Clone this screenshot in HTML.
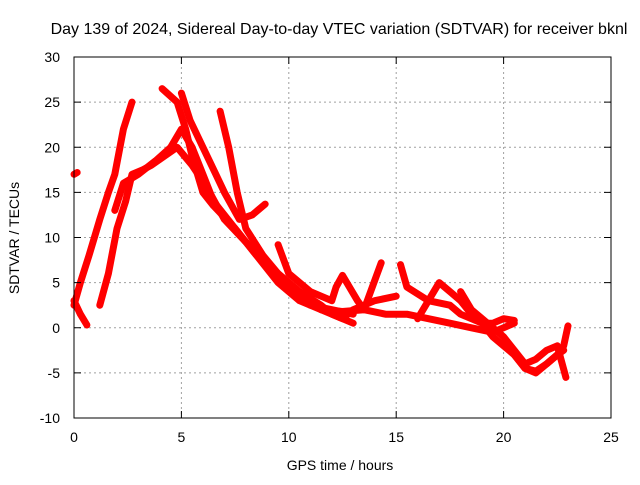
<!DOCTYPE html>
<html><head><meta charset="utf-8"><style>
body{margin:0;background:#fff}
svg text{font-family:"Liberation Sans",sans-serif;font-size:14px;fill:#000}
</style></head><body>
<svg id="chart" width="640" height="480" viewBox="0 0 640 480" xmlns="http://www.w3.org/2000/svg">
<rect width="640" height="480" fill="#fff"/>
<text x="339" y="34" text-anchor="middle" style="font-size:16px">Day 139 of 2024, Sidereal Day-to-day VTEC variation (SDTVAR) for receiver bknl</text>
<g id="grid"></g><g id="series"></g><g id="axes"></g>
<text x="340" y="470" text-anchor="middle">GPS time / hours</text>
<text transform="translate(19,238) rotate(-90)" text-anchor="middle">SDTVAR / TECUs</text>
</svg>
<script>
const xTicks=[0,5,10,15,20,25];
const yTicks=[-10,-5,0,5,10,15,20,25,30];
const t1h=[0,0.3,0.7,1.2,1.6,1.9,2.3,2.7];const t1v=[2.5,5,8,12,15,17,22,25];
const t2h=[0,0.3,0.6];const t2v=[3,1.5,0.3];
const t3h=[1.2,1.6,2.0,2.4,2.7,3.2,3.6,4.2,4.8,5.5,6.2,7,8,9,10,11,12,13];const t3v=[2.5,6,11,14,17,17.5,18,19,20,18,15.5,12,9.5,7,4.5,2.5,2,1.5];
const t4h=[1.9,2.3,3,3.8,4.5,5,5.5,6,6.5,7.5,8.5,9.5,10.5,11.5,12.5,13.5,14.5,15.5,16.5,17.5,18.5,19.5,20.5];const t4v=[13,16,17,18.5,20,22,20,17,14,11,8,6,3.5,2,1.8,2,1.5,1.5,1,0.5,0,-0.5,0.5];
const t5h=[4.1,4.8,5.2,5.5,6,6.5,7.5,8.5,9.5,10.5,11.5,12.5,13,14,15];const t5v=[26.5,25,22,19,15,13.5,11,8,5,3,2,1,2,3,3.5];
const t6h=[5,5.4,6,6.6,7,7.7,8.3,8.9];const t6v=[26,23,20,17,15,12,12.5,13.7];
const t7h=[6.8,7.2,7.6,8,8.8,9.5,10.5,11.5,12,12.5,13];const t7v=[24,20,15,11,8,6,4,2.5,1.5,1,0.5];
const t8h=[9.5,10,11,12,12.2,12.5,13.2,13.5,14.3];const t8v=[9.2,6,4,3,4.5,5.8,3,2,7.2];
const t9h=[15.2,15.5,16.5,17.5,18,18.5,19,19.5,20,20.5,21,21.5,22,22.5,22.8];const t9v=[7,4.5,3,2.5,1.5,1,0.5,-1,-2,-3,-4.5,-4.8,-4,-3,-2.5];
const t10h=[16,16.5,17,17.5,18,18.5,19,19.5,20,20.5];const t10v=[1,3,5,4,3,1.5,0.5,0.5,1,0.8];
const t11h=[18,18.5,19,19.5,20,20.5,21,21.5,22,22.5,22.9];const t11v=[4,2,1,0,-1,-2.5,-4,-3.5,-2.5,-2,-5.5];
const t12h=[20.5,21,21.5,22,22.5,22.8,23];const t12v=[-3,-4.5,-5,-4,-3,-2,0.2];
const t13h=[0,0.15];const t13v=[17,17.2];
const tracksH=[t1h,t2h,t3h,t4h,t5h,t6h,t7h,t8h,t9h,t10h,t11h,t12h,t13h];
const tracksV=[t1v,t2v,t3v,t4v,t5v,t6v,t7v,t8v,t9v,t10v,t11v,t12v,t13v];
const X0=74,X1=611,Y0=418,Y1=57;
const sx=h=>X0+(h-0)/25*(X1-X0);
const sy=v=>Y0-(v+10)/40*(Y0-Y1);
const NS="http://www.w3.org/2000/svg";
const grid=document.getElementById('grid'),axes=document.getElementById('axes'),ser=document.getElementById('series');
function mk(tag,attrs,parent){const e=document.createElementNS(NS,tag);for(const k in attrs)e.setAttribute(k,attrs[k]);parent.appendChild(e);return e;}
xTicks.forEach(t=>{const x=sx(t);
 if(t>0&&t<25){const g=mk('line',{x1:x,x2:x,y1:Y1,y2:Y0,stroke:'#a0a0a0','stroke-dasharray':'2,3'},grid);
 
 }
 mk('line',{x1:x,x2:x,y1:Y0,y2:Y0-7,stroke:'#000'},axes);mk('line',{x1:x,x2:x,y1:Y1,y2:Y1+7,stroke:'#000'},axes);
 const l=mk('text',{x:x,y:Y0+24,'text-anchor':'middle'},axes);l.textContent=t;
 
 });
yTicks.forEach(t=>{const y=sy(t);
 if(t>-10&&t<30){const g=mk('line',{x1:X0,x2:X1,y1:y,y2:y,stroke:'#a0a0a0','stroke-dasharray':'2,3'},grid);
 
 }
 mk('line',{x1:X0,x2:X0+7,y1:y,y2:y,stroke:'#000'},axes);mk('line',{x1:X1,x2:X1-7,y1:y,y2:y,stroke:'#000'},axes);
 const l=mk('text',{x:X0-14,y:y+5,'text-anchor':'end'},axes);l.textContent=t;
 
 });
const fr=mk('rect',{x:X0,y:Y1,width:X1-X0,height:Y0-Y1,fill:'none',stroke:'#000'},axes);


tracksH.forEach((hs,i)=>{const vs=tracksV[i];
 const pts=hs.map((h,j)=>sx(h).toFixed(1)+','+sy(vs[j]).toFixed(1)).join(' ');
 const p=mk('polyline',{points:pts,fill:'none',stroke:'#ff0000','stroke-width':7,'stroke-linejoin':'round','stroke-linecap':'round'},ser);
 
 });
</script>
</body></html>
